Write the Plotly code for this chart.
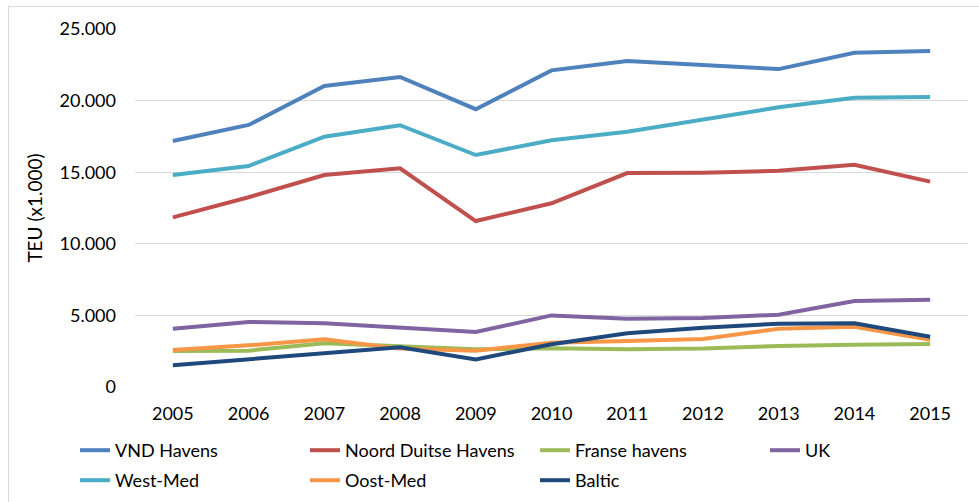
import plotly.graph_objects as go

years = ["2005", "2006", "2007", "2008", "2009", "2010", "2011", "2012", "2013", "2014", "2015"]

vnd_havens = [17180, 18300, 21020, 21650, 19400, 22110, 22760, 22450, 22200, 23340, 23460]
noord_duitse_havens = [11850, 13250, 14800, 15270, 11590, 12830, 14940, 14970, 15100, 15520, 14340]
franse_havens = [2510, 2540, 3050, 2860, 2630, 2700, 2630, 2680, 2860, 2950, 3000]
uk = [4070, 4540, 4450, 4170, 3840, 5000, 4770, 4820, 5050, 6000, 6100]
west_med = [14800, 15430, 17480, 18280, 16200, 17230, 17830, 18700, 19530, 20200, 20250]
oost_med = [2580, 2910, 3330, 2680, 2540, 3090, 3210, 3350, 4070, 4210, 3300]
baltic = [1520, 1930, 2350, 2770, 1930, 2980, 3750, 4140, 4420, 4450, 3510]

# (name, values, colour, legend row)
series = [
    ("VND Havens", vnd_havens, "#4F81BD", "legend"),
    ("Noord Duitse Havens", noord_duitse_havens, "#C0504D", "legend"),
    ("Franse havens", franse_havens, "#9BBB59", "legend"),
    ("UK", uk, "#8064A2", "legend"),
    ("West-Med", west_med, "#4BACC6", "legend2"),
    ("Oost-Med", oost_med, "#F79646", "legend2"),
    ("Baltic", baltic, "#1F497D", "legend2"),
]

FONT = "Lato"

fig = go.Figure()
for name, values, color, leg in series:
    fig.add_trace(go.Scatter(
        x=years, y=values, name=name, mode="lines",
        line=dict(color=color, width=4),
        legend=leg,
    ))

W, H = 979, 502
L, R, T, B = 135, 11, 29, 115
PW, PH = W - L - R, H - T - B


def legend_row(top_px):
    return dict(
        orientation="h", xref="paper", yref="paper",
        x=(75 - L) / PW, y=(H - B - top_px) / PH,
        xanchor="left", yanchor="top",
        entrywidth=185, entrywidthmode="pixels",
        font=dict(family=FONT, size=18, color="#000000"),
        bgcolor="rgba(0,0,0,0)",
    )


fig.update_layout(
    width=W, height=H,
    margin=dict(l=L, r=R, t=T, b=B, autoexpand=False),
    paper_bgcolor="white", plot_bgcolor="white",
    font=dict(family=FONT, size=18, color="#000000"),
    showlegend=True,
    legend=legend_row(432),
    legend2=legend_row(462),
    xaxis=dict(
        type="category", range=[-0.5, 10.5],
        showgrid=False, showline=False, zeroline=False,
        ticks="", ticklabelstandoff=14,
        tickfont=dict(family=FONT, size=18),
    ),
    yaxis=dict(
        range=[0, 25000], tickvals=[0, 5000, 10000, 15000, 20000, 25000],
        ticktext=["0", "5.000", "10.000", "15.000", "20.000", "25.000"],
        showgrid=True, gridcolor="#D9D9D9", gridwidth=1,
        zeroline=False, showline=False, ticks="", ticklabelstandoff=18,
        tickfont=dict(family=FONT, size=18),
        title=dict(text="TEU (x1.000)", font=dict(family=FONT, size=19), standoff=11),
    ),
)

# Chart frame: left and top edges visible, the rest runs off the canvas
fig.add_shape(
    type="rect", xref="paper", yref="paper",
    x0=(8.5 - L) / PW, x1=1.2,
    y0=-0.6, y1=(H - B - 6.5) / PH,
    line=dict(color="#D9D9D9", width=1), fillcolor="rgba(0,0,0,0)", layer="below",
)

fig.write_html("out.html")
